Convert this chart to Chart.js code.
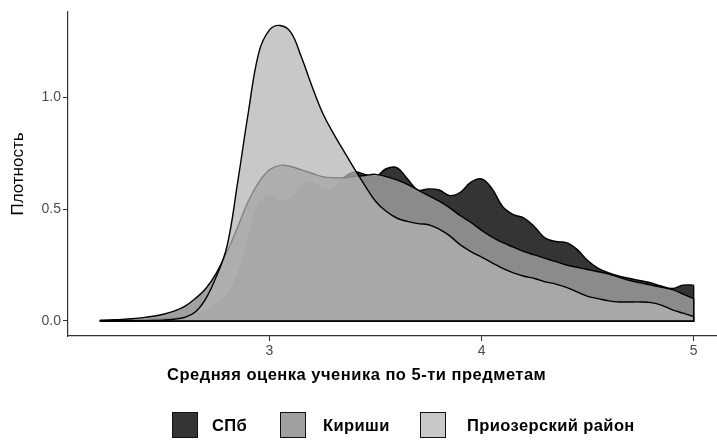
<!DOCTYPE html>
<html>
<head>
<meta charset="utf-8">
<script src="https://cdn.jsdelivr.net/npm/chart.js@4.4.1/dist/chart.umd.min.js"></script>
<style>
  html, body { margin: 0; padding: 0; background: #fff; }
  #wrap { position: relative; width: 717px; height: 441px; font-family: "Liberation Sans", Arial, sans-serif; }
  #chart { position: absolute; left: 0; top: 0; }
  #xtitle { position: absolute; left: 167px; top: 365px; font-size: 16.5px; letter-spacing: 0.5px; font-weight: bold; color: #000; white-space: nowrap; }
  .key { position: absolute; top: 412px; width: 26px; height: 26px; border: 1.5px solid #111; box-sizing: border-box; }
  .keylabel { position: absolute; top: 416px; font-size: 16.5px; letter-spacing: 0.4px; font-weight: bold; color: #000; white-space: nowrap; }
</style>
</head>
<body>
<div id="wrap">
  <canvas id="chart" width="717" height="441"></canvas>
  <div id="xtitle"></div>
  <div id="legend"></div>
</div>
<script>
(function() {
    "use strict";

    // Группы (легенда)
    const categories = ['СПб', 'Кириши', 'Приозерский район'];

    // Сетка по оси X (средняя оценка)
    const xGrid = [2.20, 2.25, 2.30, 2.35, 2.40, 2.45, 2.50, 2.55, 2.60, 2.65,
                   2.70, 2.75, 2.80, 2.85, 2.90, 2.95, 3.00, 3.05, 3.10, 3.15,
                   3.20, 3.25, 3.30, 3.35, 3.40, 3.45, 3.50, 3.55, 3.60, 3.65,
                   3.70, 3.75, 3.80, 3.85, 3.90, 3.95, 4.00, 4.05, 4.10, 4.15,
                   4.20, 4.25, 4.30, 4.35, 4.40, 4.45, 4.50, 4.55, 4.60, 4.65,
                   4.70, 4.75, 4.80, 4.85, 4.90, 4.95, 5.00];

    // Плотности
    const spbDensity = [0.002, 0.003, 0.004, 0.005, 0.006, 0.008, 0.010, 0.013, 0.018, 0.028,
                        0.047, 0.080, 0.115, 0.205, 0.370, 0.515, 0.560, 0.535, 0.545, 0.600,
                        0.620, 0.590, 0.585, 0.640, 0.665, 0.655, 0.645, 0.680, 0.685, 0.635,
                        0.585, 0.590, 0.585, 0.560, 0.575, 0.620, 0.635, 0.590, 0.510, 0.475,
                        0.460, 0.420, 0.370, 0.355, 0.350, 0.320, 0.270, 0.235, 0.215, 0.200,
                        0.190, 0.180, 0.170, 0.155, 0.145, 0.160, 0.160];

    const kirishiDensity = [0.003, 0.005, 0.007, 0.010, 0.015, 0.021, 0.030, 0.044, 0.065, 0.100,
                            0.145, 0.215, 0.310, 0.420, 0.535, 0.620, 0.675, 0.695, 0.690, 0.675,
                            0.660, 0.645, 0.640, 0.640, 0.645, 0.650, 0.655, 0.645, 0.630, 0.610,
                            0.585, 0.560, 0.535, 0.505, 0.470, 0.440, 0.405, 0.375, 0.350, 0.330,
                            0.310, 0.295, 0.280, 0.265, 0.250, 0.240, 0.230, 0.220, 0.210, 0.195,
                            0.180, 0.170, 0.160, 0.150, 0.140, 0.120, 0.100];

    const priozerskDensity = [0.000, 0.000, 0.000, 0.000, 0.001, 0.002, 0.004, 0.008, 0.016, 0.040,
                              0.100, 0.200, 0.335, 0.620, 0.930, 1.200, 1.300, 1.320, 1.290, 1.180,
                              1.050, 0.930, 0.840, 0.760, 0.680, 0.605, 0.535, 0.490, 0.460, 0.445,
                              0.435, 0.430, 0.410, 0.380, 0.340, 0.310, 0.285, 0.260, 0.235, 0.215,
                              0.200, 0.190, 0.175, 0.165, 0.150, 0.130, 0.110, 0.100, 0.090, 0.085,
                              0.085, 0.085, 0.082, 0.070, 0.050, 0.035, 0.020];

    const xTicks = [3, 4, 5];
    const yTicks = [0, 0.5, 1.0];

    const fills = ['rgba(30,30,30,0.9)', 'rgba(150,150,150,0.9)', 'rgba(180,180,180,0.73)'];
    const series = [spbDensity, kirishiDensity, priozerskDensity];

    // Вертикальный край справа и нижняя линия каждого контура
    const densityEdges = {
        id: 'densityEdges',
        afterDatasetDraw(chart, args) {
            const pts = args.meta.data;
            if (!pts.length) return;
            const ctx = chart.ctx;
            const y0 = chart.scales.y.getPixelForValue(0);
            const first = pts[0], last = pts[pts.length - 1];
            ctx.save();
            ctx.strokeStyle = '#000';
            ctx.lineWidth = 1.4;
            ctx.beginPath();
            ctx.moveTo(last.x, last.y);
            ctx.lineTo(last.x, y0);
            ctx.lineTo(first.x, y0);
            ctx.stroke();
            ctx.restore();
        }
    };

    const datasets = categories.map(function(name, i) {
        return {
            label: name,
            data: xGrid.map(function(x, j) { return { x: x, y: series[i][j] }; }),
            backgroundColor: fills[i],
            borderColor: '#000',
            borderWidth: 1.4,
            pointRadius: 0,
            fill: 'origin',
            tension: 0.4,
            order: categories.length - i
        };
    });

    const tickFont = { family: '"Liberation Sans", Arial, sans-serif', size: 14 };

    new Chart(document.getElementById('chart').getContext('2d'), {
        type: 'line',
        data: { datasets: datasets },
        options: {
            responsive: false,
            devicePixelRatio: 1,
            animation: false,
            layout: { padding: { top: 12, left: 0, right: 0, bottom: 0 } },
            plugins: { legend: { display: false }, tooltip: { enabled: false } },
            scales: {
                x: {
                    type: 'linear',
                    min: 2.05,
                    max: 5.11,
                    afterBuildTicks: function(scale) { scale.ticks = xTicks.map(function(v) { return { value: v }; }); },
                    afterFit: function(scale) { scale.height = 105; },
                    grid: { drawOnChartArea: false, drawTicks: true, tickLength: 5, color: '#333' },
                    border: { display: true, color: '#333', width: 1.2 },
                    ticks: { color: '#4d4d4d', font: tickFont, padding: 2, maxRotation: 0 }
                },
                y: {
                    min: -0.067,
                    max: 1.38,
                    afterBuildTicks: function(scale) { scale.ticks = yTicks.map(function(v) { return { value: v }; }); },
                    afterFit: function(scale) { scale.width = 68; },
                    grid: { drawOnChartArea: false, drawTicks: true, tickLength: 5, color: '#333' },
                    border: { display: true, color: '#333', width: 1.2 },
                    ticks: {
                        color: '#4d4d4d', font: tickFont, padding: 2,
                        callback: function(v) { return Number(v).toFixed(1); }
                    },
                    title: {
                        display: true,
                        text: 'Плотность',
                        color: '#000',
                        font: { family: '"Liberation Sans", Arial, sans-serif', size: 17 },
                        padding: { top: 8, bottom: 0 }
                    }
                }
            }
        },
        plugins: [densityEdges]
    });

    // Подпись оси X и легенда
    document.getElementById('xtitle').textContent = 'Средняя оценка ученика по 5-ти предметам';

    const keyLeft = [172, 280, 420];
    const labelLeft = [212, 323, 467];
    const legend = document.getElementById('legend');
    categories.forEach(function(name, i) {
        const box = document.createElement('div');
        box.className = 'key';
        box.style.left = keyLeft[i] + 'px';
        box.style.background = fills[i];
        legend.appendChild(box);
        const txt = document.createElement('div');
        txt.className = 'keylabel';
        txt.style.left = labelLeft[i] + 'px';
        txt.textContent = name;
        legend.appendChild(txt);
    });
})();
</script>
</body>
</html>
